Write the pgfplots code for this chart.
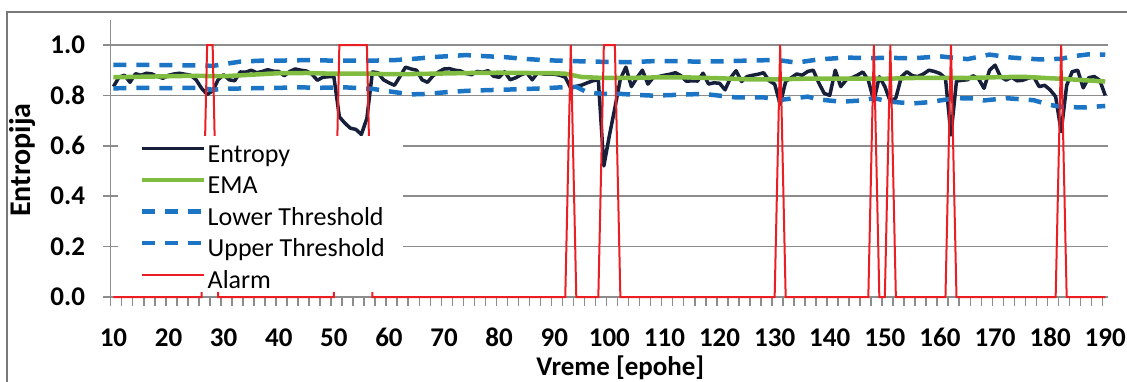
\documentclass[border=0pt]{standalone}
\usepackage{pgfplots}
\pgfplotsset{compat=1.18}
\usepackage{fontspec}
\setmainfont{Carlito}
\definecolor{entc}{RGB}{22,32,58}
\definecolor{emac}{RGB}{128,188,64}
\definecolor{thrc}{RGB}{28,117,196}
\definecolor{alrc}{RGB}{235,30,35}
\definecolor{gridc}{RGB}{140,140,140}
\definecolor{framec}{RGB}{120,120,120}
\begin{document}
\begin{tikzpicture}
\useasboundingbox (0,0) rectangle (1127pt,381pt);
\draw[framec, line width=1.5pt] (7pt,-10pt) -- (7pt,369pt) -- (1140pt,369pt);
\begin{axis}[
  at={(110.7pt,84pt)}, anchor=south west,
  scale only axis, width=997.3pt, height=277.2pt,
  xmin=9.5, xmax=190.5, ymin=0, ymax=1.1,
  clip=false,
  axis x line*=bottom, axis y line*=left,
  axis line style={draw=gridc, line width=1.5pt},
  xtick={10,20,...,190},
  major x tick style={draw=none},
  minor xtick={9.5,11.5,...,189.5},
  minor tick length=9pt,
  minor x tick style={draw=gridc, line width=1.5pt},
  ytick={0,0.2,0.4,0.6,0.8,1.0},
  major tick length=7.5pt,
  tick align=outside,
  y tick style={draw=gridc, line width=1.5pt},
  ymajorgrids,
  major grid style={draw=gridc, line width=1.5pt},
  /pgf/number format/assume math mode=true,
  ticklabel style={font=\fontsize{27}{32}\selectfont\bfseries},
  yticklabel style={anchor=east, inner sep=0pt, xshift=-18pt,
    /pgf/number format/.cd, fixed, fixed zerofill, precision=1},
  xticklabel style={anchor=center, inner sep=0pt, yshift=-33pt},
  xlabel={Vreme [epohe]},
  ylabel={Entropija},
  xlabel style={at={(axis description cs:0.511,-0.256)}, anchor=center, font=\fontsize{27}{32}\selectfont\bfseries},
  ylabel style={at={(axis description cs:-0.088,0.494)}, anchor=center, font=\fontsize{30}{35}\selectfont\bfseries},
  legend style={at={(axis cs:14.82,0.600)}, anchor=north west, draw=none, fill=none,
    font=\fontsize{26}{31}\selectfont, inner sep=0pt, row sep=10.5pt, column sep=1pt,
    nodes={inner sep=0pt, text height=16pt, text depth=5pt}},
  legend cell align=left,
  legend image code/.code={\draw[#1] (0pt,8pt) -- (62pt,8pt);},
]
\addplot[entc, line width=3.5pt, line join=round] coordinates {
(10,0.835)(11,0.872)(12,0.880)(13,0.852)(14,0.886)(15,0.880)(16,0.888)(17,0.885)(18,0.875)(19,0.868)
(20,0.880)(21,0.885)(22,0.888)(23,0.884)(24,0.880)(25,0.862)(26,0.828)(27,0.804)(28,0.818)(29,0.862)
(30,0.882)(31,0.862)(32,0.858)(33,0.893)(34,0.892)(35,0.900)(36,0.890)(37,0.895)(38,0.902)(39,0.896)
(40,0.895)(41,0.878)(42,0.895)(43,0.905)(44,0.900)(45,0.897)(46,0.885)(47,0.860)(48,0.872)(49,0.874)
(50,0.875)(51,0.715)(52,0.690)(53,0.670)(54,0.665)(55,0.645)(56,0.710)(57,0.893)(58,0.890)(59,0.862)
(60,0.850)(61,0.840)(62,0.875)(63,0.912)(64,0.905)(65,0.900)(66,0.862)(67,0.852)(68,0.878)(69,0.893)
(70,0.905)(71,0.906)(72,0.900)(73,0.897)(74,0.887)(75,0.882)(76,0.895)(77,0.892)(78,0.898)(79,0.876)
(80,0.872)(81,0.894)(82,0.862)(83,0.870)(84,0.882)(85,0.890)(86,0.862)(87,0.890)(88,0.885)(89,0.884)
(90,0.884)(91,0.880)(92,0.872)(93,0.828)(94,0.836)(95,0.841)(96,0.850)(97,0.858)(98,0.862)(99,0.520)
(100,0.640)(101,0.750)(102,0.865)(103,0.912)(104,0.835)(105,0.870)(106,0.900)(107,0.845)(108,0.872)(109,0.875)
(110,0.880)(111,0.884)(112,0.890)(113,0.878)(114,0.856)(115,0.858)(116,0.857)(117,0.888)(118,0.845)(119,0.850)
(120,0.848)(121,0.822)(122,0.870)(123,0.898)(124,0.855)(125,0.875)(126,0.880)(127,0.884)(128,0.890)(129,0.858)
(130,0.845)(131,0.765)(132,0.855)(133,0.870)(134,0.885)(135,0.880)(136,0.895)(137,0.900)(138,0.850)(139,0.808)
(140,0.800)(141,0.900)(142,0.835)(143,0.862)(144,0.870)(145,0.880)(146,0.893)(147,0.860)(148,0.778)(149,0.874)
(150,0.835)(151,0.775)(152,0.790)(153,0.874)(154,0.894)(155,0.878)(156,0.875)(157,0.885)(158,0.900)(159,0.895)
(160,0.887)(161,0.868)(162,0.643)(163,0.857)(164,0.860)(165,0.862)(166,0.878)(167,0.866)(168,0.828)(169,0.900)
(170,0.920)(171,0.874)(172,0.861)(173,0.872)(174,0.858)(175,0.860)(176,0.868)(177,0.874)(178,0.835)(179,0.840)
(180,0.822)(181,0.795)(182,0.656)(183,0.840)(184,0.894)(185,0.900)(186,0.830)(187,0.870)(188,0.875)(189,0.860)
(190,0.800)};
\addlegendentry{Entropy}
\addplot[emac, line width=4.5pt, line join=round] coordinates {
(10,0.872)(15,0.874)(20,0.876)(25,0.878)(28,0.876)(30,0.876)(35,0.882)(40,0.888)(45,0.889)(50,0.886)
(57,0.886)(60,0.884)(65,0.885)(70,0.887)(75,0.889)(80,0.890)(85,0.889)(90,0.888)(92,0.886)(95,0.873)
(98,0.870)(102,0.870)(105,0.870)(110,0.872)(115,0.871)(120,0.868)(125,0.864)(131,0.864)(135,0.866)(140,0.867)
(145,0.867)(150,0.866)(155,0.869)(160,0.870)(165,0.869)(170,0.872)(175,0.874)(180,0.868)(182,0.866)(185,0.862)
(190,0.855)};
\addlegendentry{EMA}
\addplot[thrc, line width=4.5pt, dash pattern=on 13pt off 10pt] coordinates {
(10,0.828)(15,0.830)(20,0.829)(26,0.830)(28,0.822)(30,0.826)(34,0.828)(40,0.830)(44,0.832)(47,0.830)
(52,0.832)(57,0.826)(61,0.813)(64,0.804)(67,0.806)(70,0.812)(74,0.818)(78,0.821)(83,0.824)(88,0.828)
(92,0.833)(94,0.834)(96,0.812)(99,0.806)(102,0.806)(105,0.802)(108,0.799)(112,0.802)(117,0.806)(120,0.799)
(123,0.792)(128,0.792)(131,0.782)(134,0.790)(136,0.795)(138,0.784)(142,0.775)(146,0.780)(148,0.789)(151,0.775)
(155,0.768)(158,0.773)(160,0.780)(163,0.789)(166,0.788)(168,0.780)(172,0.789)(177,0.781)(180,0.762)(182,0.755)
(186,0.752)(190,0.758)};
\addlegendentry{Lower Threshold}
\addplot[thrc, line width=4.5pt, dash pattern=on 13pt off 10pt] coordinates {
(10,0.921)(15,0.921)(20,0.920)(26,0.919)(28,0.917)(30,0.924)(33,0.934)(37,0.938)(40,0.938)(45,0.940)
(50,0.938)(57,0.938)(61,0.940)(65,0.946)(68,0.952)(71,0.956)(74,0.960)(78,0.955)(81,0.952)(84,0.946)
(88,0.940)(92,0.937)(97,0.934)(100,0.933)(104,0.932)(108,0.936)(112,0.936)(116,0.934)(120,0.935)(125,0.938)
(129,0.940)(131,0.939)(134,0.930)(138,0.943)(143,0.950)(147,0.948)(151,0.949)(155,0.947)(160,0.955)(165,0.944)
(169,0.962)(173,0.950)(178,0.943)(182,0.945)(184,0.955)(187,0.963)(190,0.962)};
\addlegendentry{Upper Threshold}
\addplot[alrc, line width=2pt] coordinates {
(10,0)(26,0)(27,1)(28,1)(29,0)(50,0)(51,1)(56,1)(57,0)(92,0)(93,1)(94,0)(98,0)(99,1)(101,1)(102,0)
(130,0)(131,1)(132,0)(147,0)(148,1)(149,0)(150,0)(151,1)(152,0)(161,0)(162,1)(163,0)(181,0)(182,1)(183,0)(190,0)};
\addlegendentry{Alarm}
\fill[white] (axis cs:10.9,0.02) rectangle (axis cs:62.5,0.638);
\end{axis}
\end{tikzpicture}
\end{document}
